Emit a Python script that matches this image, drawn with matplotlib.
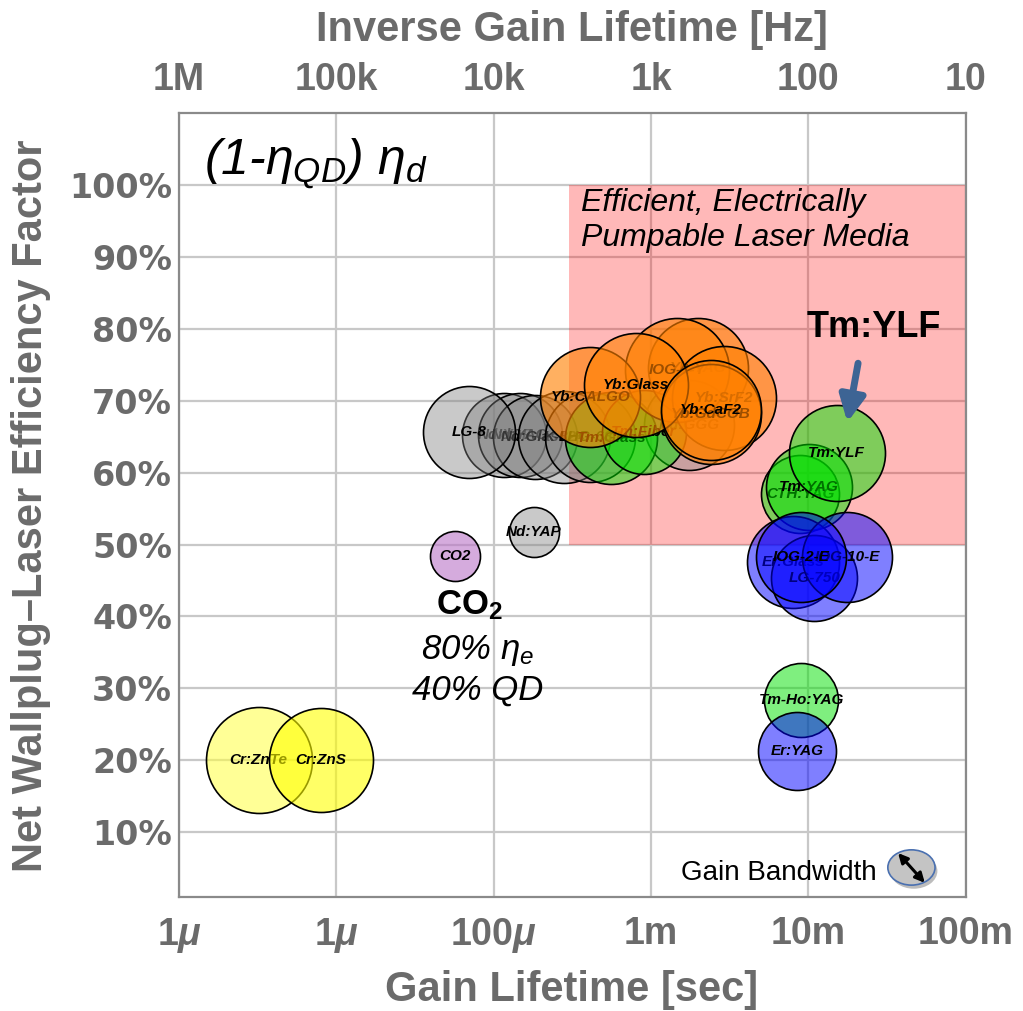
import matplotlib
matplotlib.use("Agg")
import matplotlib.pyplot as plt
from matplotlib.patches import Rectangle, Ellipse
import numpy as np

# ---------------- data ----------------
media = ["Cr:ZnTe", "Cr:ZnS", "CO2", "Nd:YAP",
         "Nd:YLF", "Nd:YAG", "Nd:Glass", "LG-8", "K-824", "LHG-680", "Nd:GGG",
         "Tm:Glass", "Tm:Fiber",
         "Yb:YAG", "IOG-1-Y", "Yb:SrF2", "Yb:GdCOB", "Yb:CALGO", "Yb:Glass", "Yb:CaF2",
         "CTH:YAG", "Tm:YAG", "Tm:YLF",
         "Er:Glass", "LG-750", "IOG-10-E", "IOG-2-E",
         "Tm-Ho:YAG", "Er:YAG"]
group = ["Cr0", "Cr", "CO2", "Nd",
         "Nd", "Nd", "Nd", "Nd", "Nd", "Nd", "Nd",
         "Tm", "Tm",
         "Yb", "Yb", "Yb", "Yb", "Yb", "Yb", "Yb",
         "Tm", "Tm", "Tm",
         "Er", "Er", "Er", "Er",
         "Tm", "Er"]
gain_lifetime_s = [3.2e-6, 8.0e-6, 5.7e-5, 1.8e-4,
                   1.17e-4, 1.46e-4, 1.82e-4, 7.0e-5, 2.8e-4, 4.1e-4, 1.75e-3,
                   5.6e-4, 9.0e-4,
                   2.0e-3, 1.47e-3, 2.9e-3, 2.4e-3, 4.1e-4, 8.0e-4, 2.4e-3,
                   8.9e-3, 1.01e-2, 1.51e-2,
                   8.0e-3, 1.09e-2, 1.77e-2, 9.0e-3,
                   9.0e-3, 8.5e-3]
efficiency = [0.200, 0.200, 0.484, 0.517,
              0.652, 0.652, 0.650, 0.656, 0.650, 0.650, 0.666,
              0.648, 0.656,
              0.745, 0.743, 0.704, 0.681, 0.705, 0.722, 0.687,
              0.570, 0.580, 0.627,
              0.476, 0.453, 0.482, 0.482,
              0.284, 0.213]
gain_bandwidth = [53, 52, 25, 25,
                  42, 42, 42, 46, 46, 45, 45,
                  46, 42,
                  50, 52, 52, 50, 50, 52, 50,
                  39, 43, 48,
                  46, 43, 45, 45,
                  37, 39]

x_ticks = [1e-6, 1e-5, 1e-4, 1e-3, 1e-2, 1e-1]
bottom_labels = ["1$\\mu$", "1$\\mu$", "100$\\mu$", "1m", "10m", "100m"]
top_labels = ["1M", "100k", "10k", "1k", "100", "10"]
y_ticks = [0.1, 0.2, 0.3, 0.4, 0.5, 0.6, 0.7, 0.8, 0.9, 1.0]
y_labels = ["10%", "20%", "30%", "40%", "50%", "60%", "70%", "80%", "90%", "100%"]

# ---------------- style ----------------
plt.rcParams['font.family'] = ['Liberation Sans', 'DejaVu Sans']
plt.rcParams['mathtext.fontset'] = 'custom'
plt.rcParams['mathtext.rm'] = 'Liberation Sans:italic'
plt.rcParams['mathtext.it'] = 'Liberation Sans:italic'
plt.rcParams['mathtext.bf'] = 'Liberation Sans:bold'
plt.rcParams['mathtext.sf'] = 'Liberation Sans:bold:italic'

GREY = '#6b6b6b'
colors = {
    "Cr0": (1.0, 1.0, 0.25, 0.55),
    "Cr": (1.0, 1.0, 0.0, 0.6),
    "CO2": (0.73, 0.45, 0.78, 0.6),
    "Nd": (0.5, 0.5, 0.5, 0.42),
    "Tm": (0.0, 0.88, 0.0, 0.5),
    "Yb": (1.0, 0.5, 0.0, 0.62),
    "Er": (0.0, 0.0, 1.0, 0.5),
}

fig = plt.figure(figsize=(10.23, 10.11), dpi=100)
ax = fig.add_axes([0.175, 0.1128, 0.769, 0.7755])
ax.set_xscale('log')
ax.set_xlim(1e-6, 1e-1)
ax.set_ylim(0.01, 1.1)

ax.set_axisbelow(True)
ax.grid(True, which='major', color='#c8c8c8', lw=1.6)
ax.xaxis.set_minor_locator(matplotlib.ticker.NullLocator())
for s in ax.spines.values():
    s.set_color('#8a8a8a')
    s.set_linewidth(1.6)

ax.set_xticks(x_ticks)
ax.set_xticklabels([lbl.replace('$\\mu$', '$\\mathsf{\\mu}$') for lbl in bottom_labels],
                   fontsize=27, fontweight='bold', color=GREY)
ax.set_yticks(y_ticks)
ax.set_yticklabels(y_labels, family='DejaVu Sans', fontsize=24, fontweight='bold', color=GREY)
ax.tick_params(axis='x', length=0, pad=14)
ax.tick_params(axis='y', length=0, pad=5)

ax2 = ax.twiny()
ax2.set_xscale('log')
ax2.set_xlim(ax.get_xlim())
ax2.set_xticks(x_ticks)
ax2.xaxis.set_minor_locator(matplotlib.ticker.NullLocator())
ax2.set_xticklabels(top_labels, fontsize=27, fontweight='bold', color=GREY)
ax2.tick_params(axis='x', length=0, pad=11)
for s in ax2.spines.values():
    s.set_visible(False)

# pink region
ax.add_patch(Rectangle((3e-4, 0.5), 1e-1 - 3e-4, 0.5, facecolor=(1, 0, 0, 0.28),
                       edgecolor='none', zorder=1))
ax.text(3.6e-4, 0.995, "Efficient, Electrically\nPumpable Laser Media", fontsize=23,
        fontstyle='italic', ha='left', va='top', linespacing=1.2, zorder=1.5)

# bubbles
z = 2
for name, g, t, e, bw in zip(media, group, gain_lifetime_s, efficiency, gain_bandwidth):
    d_pt = 2 * bw * 0.72
    ax.scatter([t], [e], s=d_pt ** 2, facecolors=[colors[g]], edgecolors='black',
               linewidths=1.2, zorder=z)
    ax.text(t, e, name, fontsize=11, fontweight='bold', fontstyle='italic',
            ha='center', va='center', zorder=z + 0.5)
    z += 1

# annotations
ax.text(1.45e-6, 1.03, r'(1-$\eta_{QD}$) $\eta_d$', fontsize=36, fontstyle='italic',
        ha='left', va='center', zorder=50)
ax.text(7.0e-5, 0.416, r'$\mathbf{CO_2}$', fontsize=25, ha='center', va='center', zorder=50)
ax.text(7.9e-5, 0.353, r'80% $\eta_e$', fontsize=25, fontstyle='italic',
        ha='center', va='center', zorder=50)
ax.text(7.9e-5, 0.297, '40% QD', fontsize=25, fontstyle='italic',
        ha='center', va='center', zorder=50)

ax.text(2.62e-2, 0.802, 'Tm:YLF', fontsize=26, fontweight='bold',
        ha='center', va='center', zorder=50)
ax.annotate('', xy=(1.77e-2, 0.67), xytext=(2.07e-2, 0.752),
            zorder=50,
            arrowprops=dict(arrowstyle='-|>,head_length=0.7,head_width=0.35',
                            color='#3d6494', lw=5, mutation_scale=22,
                            shrinkA=0, shrinkB=0))

# gain bandwidth legend icon
ax.text(0.887, 0.031, 'Gain Bandwidth', transform=ax.transAxes, fontsize=20,
        ha='right', va='center', zorder=50)
ax.add_patch(Ellipse((0.934, 0.033), 0.060, 0.045, transform=ax.transAxes,
                     facecolor='#7a7a7a', edgecolor='none', alpha=0.5, zorder=49))
ax.add_patch(Ellipse((0.931, 0.0376), 0.060, 0.045, transform=ax.transAxes,
                     facecolor='#c4c4c4', edgecolor='#4a70b0', lw=1.2, zorder=50))
ax.annotate('', xy=(0.948, 0.018), xytext=(0.914, 0.056), xycoords='axes fraction',
            textcoords='axes fraction', zorder=51,
            arrowprops=dict(arrowstyle='<|-|>', color='black', lw=2.2, mutation_scale=14,
                            shrinkA=0, shrinkB=0))

# axis titles
fig.text(0.559, 0.970, 'Inverse Gain Lifetime [Hz]', fontsize=30, fontweight='bold',
         color=GREY, ha='center', va='center')
fig.text(0.559, 0.021, 'Gain Lifetime [sec]', fontsize=30, fontweight='bold',
         color=GREY, ha='center', va='center')
fig.text(0.030, 0.500, 'Net Wallplug\u2013Laser Efficiency Factor', fontsize=30,
         fontweight='bold', color=GREY, ha='center', va='center', rotation=90)

fig.savefig('out.png', dpi=100)
